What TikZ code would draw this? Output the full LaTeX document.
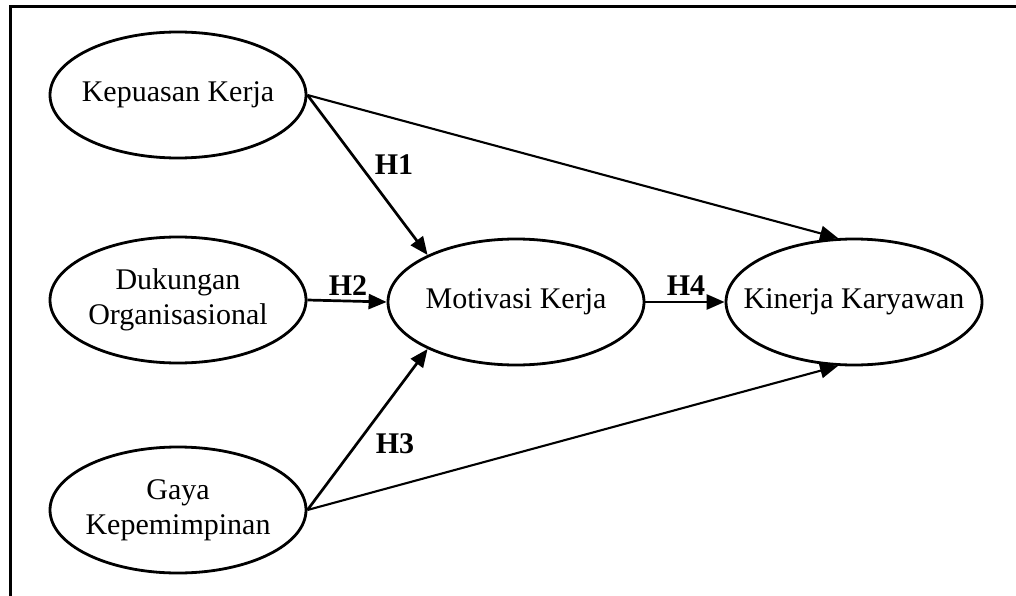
\documentclass[tikz,border=0pt]{standalone}
\usepackage{fontspec}
\setmainfont{Liberation Serif}
\usetikzlibrary{shapes.geometric,arrows.meta}
\begin{document}
\begin{tikzpicture}[x=1pt,y=-1pt,
  lab/.style={inner sep=0pt,align=center,font=\fontsize{30}{35}\selectfont},
  var/.style={ellipse,draw,line width=2.8pt,minimum width=256pt,minimum height=126pt,inner sep=0pt,label={[lab]center:#1}},
  arr/.style={line width=2.7pt,-{Triangle[length=18pt,width=15pt]}},
  lnk/.style={line width=2.1pt,-{Triangle[length=18pt,width=15pt]}},
  hyp/.style={inner sep=0pt,font=\fontsize{30}{35}\selectfont\bfseries}]
\useasboundingbox (0,0) rectangle (1016,596);
\draw[line width=3pt] (1016,7) -- (10,7) -- (10,596);
\node[var={Kepuasan Kerja}] (kk) at (178,95) {};
\node[var={Dukungan\\Organisasional}] (do) at (178,300) {};
\node[var={Gaya\\Kepemimpinan}] (gk) at (178,510) {};
\node[var={Motivasi Kerja}] (mk) at (516,302) {};
\node[var={Kinerja Karyawan}] (kn) at (854,302) {};
\draw[arr] (kk.east) -- (mk.152);
\draw[arr] (do.east) -- (mk.west);
\draw[arr] (gk.east) -- (mk.208);
\draw[arr] (mk.east) -- (kn.west);
\draw[lnk] (kk.east) -- (kn.104);
\draw[lnk] (gk.east) -- (kn.256);
\node[hyp] (h1) at (394,165) {H1};
\node[hyp] (h2) at (348,286) {H2};
\node[hyp] (h3) at (395,444) {H3};
\node[hyp] (h4) at (686,286) {H4};
\end{tikzpicture}
\end{document}
